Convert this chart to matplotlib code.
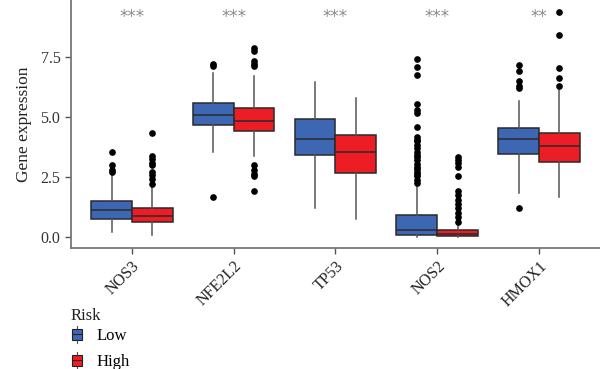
import matplotlib
matplotlib.use("Agg")
import matplotlib.pyplot as plt
from matplotlib.patches import Rectangle
from matplotlib.lines import Line2D
from matplotlib.legend_handler import HandlerBase

plt.rcParams['font.family'] = ['Liberation Serif', 'DejaVu Serif']

# 遺伝子ごとの箱ひげ図の統計値
genes = ["NOS3", "NFE2L2", "TP53", "NOS2", "HMOX1"]
signif = ["***", "***", "***", "***", "**"]

low_q1 = [0.75, 4.68, 3.42, 0.08, 3.45]
low_med = [1.13, 5.11, 4.09, 0.29, 4.09]
low_q3 = [1.49, 5.58, 4.93, 0.91, 4.55]
low_whislo = [0.20, 3.53, 1.23, 0.00, 1.83]
low_whishi = [2.58, 6.85, 6.46, 2.23, 5.69]
low_fliers = [
    [3.57, 2.99, 2.80, 2.72],
    [7.23, 7.16, 1.65],
    [],
    [7.45, 7.09, 6.75, 5.56, 5.29, 5.18, 4.59, 4.16, 4.06, 3.99, 3.85, 3.71,
     3.57, 3.43, 3.33, 3.22, 3.04, 2.92, 2.82, 2.73, 2.64, 2.55, 2.40, 2.25],
    [7.17, 6.95, 6.50, 6.32, 6.23, 1.23],
]

high_q1 = [0.64, 4.43, 2.67, 0.04, 3.15]
high_med = [0.88, 4.86, 3.56, 0.13, 3.81]
high_q3 = [1.20, 5.39, 4.28, 0.28, 4.36]
high_whislo = [0.10, 3.39, 0.74, 0.00, 1.69]
high_whishi = [2.07, 6.74, 5.81, 0.58, 6.16]
high_fliers = [
    [4.36, 3.39, 3.27, 3.11, 2.99, 2.72, 2.57, 2.41, 2.20],
    [7.90, 7.76, 7.34, 7.24, 7.13, 2.99, 2.78, 2.64, 2.53, 1.91],
    [],
    [3.34, 3.22, 3.08, 2.92, 2.53, 1.94, 1.76, 1.55, 1.38, 1.20, 1.02,
     0.85, 0.64],
    [9.38, 8.45, 7.06, 6.66, 6.31],
]

groups = ["Low", "High"]
group_colors = ["#3D66B3", "#EC1D25"]


def make_stats(q1, med, q3, lo, hi, fl):
    return [dict(q1=a, med=b, q3=c, whislo=d, whishi=e, fliers=f)
            for a, b, c, d, e, f in zip(q1, med, q3, lo, hi, fl)]


class BoxHandler(HandlerBase):
    # 凡例用の小さい箱ひげ図
    def create_artists(self, legend, orig_handle, xdescent, ydescent,
                       width, height, fontsize, trans):
        color = orig_handle.get_facecolor()
        w = width * 0.8
        x0 = (width - w) / 2 - xdescent
        rect = Rectangle((x0, -ydescent + height * 0.05), w, height * 0.9,
                         facecolor=color, edgecolor="#222222", lw=0.8,
                         transform=trans)
        mid = -ydescent + height / 2
        med = Line2D([x0, x0 + w], [mid, mid], color="#222222", lw=0.8,
                     transform=trans)
        wl1 = Line2D([width / 2 - xdescent] * 2, [-ydescent - height * 0.2, -ydescent + height * 0.05],
                     color="#555555", lw=0.8, transform=trans)
        wl2 = Line2D([width / 2 - xdescent] * 2, [-ydescent + height * 0.95, -ydescent + height * 1.2],
                     color="#555555", lw=0.8, transform=trans)
        return [wl1, wl2, rect, med]


fig = plt.figure(figsize=(6.0, 3.69), dpi=100)
ax = fig.add_axes([0.118, 0.328, 0.882, 0.672])

positions = list(range(len(genes)))
all_stats = [
    make_stats(low_q1, low_med, low_q3, low_whislo, low_whishi, low_fliers),
    make_stats(high_q1, high_med, high_q3, high_whislo, high_whishi, high_fliers),
]
offsets = [-0.2, 0.2]

for stats, off, col in zip(all_stats, offsets, group_colors):
    ax.bxp(stats, positions=[p + off for p in positions], widths=0.4,
           patch_artist=True, showcaps=False,
           boxprops=dict(facecolor=col, edgecolor="#2a2a2a", lw=1.1),
           medianprops=dict(color="#2a2a2a", lw=1.1),
           whiskerprops=dict(color="#555555", lw=1.1),
           flierprops=dict(marker="o", markerfacecolor="black",
                           markeredgecolor="black", markersize=3.8))

for p, s in zip(positions, signif):
    ax.text(p, 9.2, s, ha="center", va="center", color="#8a8a8a",
            fontsize=12, family="DejaVu Sans")

ax.set_xlim(-0.6, 4.6)
ax.set_ylim(-0.46, 9.9)
ax.set_xticks(positions)
ax.set_xticklabels(genes, rotation=45, ha="right", rotation_mode="anchor",
                   fontsize=11.5, color="#222222")
ax.set_yticks([0.0, 2.5, 5.0, 7.5])
ax.set_yticklabels(["0.0", "2.5", "5.0", "7.5"], fontsize=11.5, color="#333333")
ax.set_ylabel("Gene expression", fontsize=12.5, color="#222222", labelpad=6)
ax.tick_params(axis="both", color="#555555", length=4, width=1)

for side in ["top", "right"]:
    ax.spines[side].set_visible(False)
for side in ["left", "bottom"]:
    ax.spines[side].set_color("#777777")
    ax.spines[side].set_linewidth(1.3)

fig.text(0.118, 1 - 316 / 369, "Risk", ha="left", va="center",
         fontsize=12, color="#222222")
handles = [Rectangle((0, 0), 1, 1, facecolor=c) for c in group_colors]
leg = fig.legend(handles, groups, loc="upper left",
                 bbox_to_anchor=(0.117, 1 - 328 / 369), frameon=False,
                 fontsize=12, handler_map={Rectangle: BoxHandler()},
                 handlelength=0.8, handleheight=0.75, handletextpad=0.8,
                 labelspacing=0.6, borderaxespad=0, borderpad=0)

fig.savefig("out.png", dpi=100)
